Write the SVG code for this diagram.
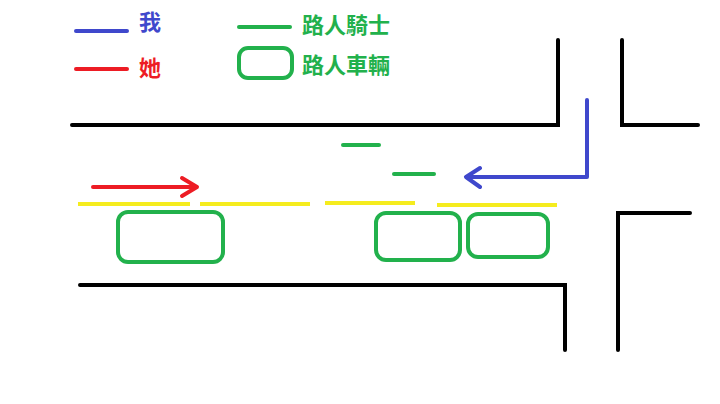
<svg xmlns="http://www.w3.org/2000/svg" width="720" height="404" viewBox="0 0 720 404">
<style>
.k{stroke:#000;stroke-width:4;fill:none;stroke-linecap:round}
.y{stroke:#f5ec1e;stroke-width:4;fill:none}
.g{stroke:#22b14c;stroke-width:4;fill:none;stroke-linecap:round}
.car{stroke:#22b14c;stroke-width:4;fill:none}
.b{stroke:#3f48cc;stroke-width:4;fill:none;stroke-linecap:round;stroke-linejoin:round}
.r{stroke:#ed1c24;stroke-width:4;fill:none;stroke-linecap:round;stroke-linejoin:round}
text{font-family:"Noto Sans CJK TC",sans-serif;font-size:22px;font-weight:bold}
</style>
<rect width="720" height="404" fill="#fff"/>
<g id="legend">
<line class="b" x1="76" y1="31" x2="127" y2="31"/>
<text x="139" y="30" fill="#3f48cc">我</text>
<line class="r" x1="76" y1="69" x2="127" y2="69"/>
<text x="139" y="76" fill="#ed1c24">她</text>
<line class="g" x1="239" y1="27" x2="290" y2="27"/>
<text x="302" y="33" fill="#22b14c">路人騎士</text>
<rect class="car" x="239" y="48" width="53" height="30" rx="9"/>
<text x="302" y="73" fill="#22b14c">路人車輛</text>
</g>
<g id="road">
<path class="k" d="M72 125H558V40"/>
<path class="k" d="M622 40V125H698"/>
<path class="k" d="M690 213H618V350"/>
<path class="k" d="M80 285H565V350"/>
<path class="y" d="M78 204H190M200 204H310M325 203H415M437 205H557"/>
</g>
<g id="riders">
<line class="g" x1="343" y1="145" x2="379" y2="145"/>
<line class="g" x1="394" y1="174" x2="434" y2="174"/>
</g>
<g id="cars">
<rect class="car" x="118" y="212" width="105" height="50" rx="10"/>
<rect class="car" x="376" y="213" width="84" height="47" rx="10"/>
<rect class="car" x="468" y="214" width="80" height="43" rx="10"/>
</g>
<g id="connectors">
<path class="r" d="M93 187H197M182 178L197 187L182 196"/>
<path class="b" d="M587 100V177H466M480 168L466 177L480 187"/>
</g>
</svg>
